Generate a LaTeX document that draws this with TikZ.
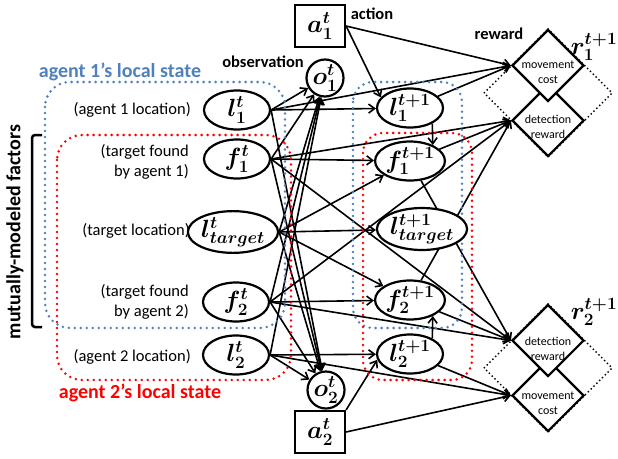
\documentclass[tikz,border=0pt]{standalone}
\usepackage{fontspec}
\setmainfont{Carlito}
\usepackage{bm}
\DeclareMathSizes{23}{23}{17.5}{13}
\usetikzlibrary{arrows.meta,shapes.geometric}
\definecolor{ablue}{RGB}{79,129,189}
\definecolor{ared}{RGB}{255,0,0}
\pgfdeclarelayer{edgelayer}
\pgfdeclarelayer{dotlayer}
\pgfsetlayers{edgelayer,dotlayer,main}
\begin{document}
\begin{tikzpicture}[x=1pt,y=-1pt,
  mfont/.style={font=\fontsize{23}{26}\selectfont},
  st/.style={draw, ellipse, line width=2.2pt, fill=white, minimum width=66pt, minimum height=39pt, inner sep=0pt, mfont},
  wide/.style={minimum width=80pt, minimum height=40pt},
  obsn/.style={draw, circle, line width=2.2pt, fill=white, minimum size=37pt, inner sep=0pt, mfont},
  actn/.style={draw, rectangle, line width=2.2pt, fill=white, minimum width=50pt, minimum height=42pt, inner sep=0pt, mfont},
  rew/.style={draw, diamond, aspect=1, line width=2.2pt, fill=white, minimum width=72pt, minimum height=72pt, inner sep=0pt},
  rtxt/.style={align=center, inner sep=0pt, font=\fontsize{12}{15}\selectfont},
  lab/.style={inner sep=0pt, align=right, anchor=east, font=\fontsize{16.5}{20}\selectfont},
  blab/.style={inner sep=0pt, font=\bfseries\fontsize{16.5}{20}\selectfont},
  ed/.style={line width=1.6pt, -{Straight Barb[length=6pt,width=9pt]}},
  dotb/.style={draw=ablue, line width=2.8pt, line cap=round, dash pattern=on 0pt off 6pt, rounded corners=25pt},
  dotr/.style={draw=ared, line width=2.8pt, line cap=round, dash pattern=on 0pt off 6pt, rounded corners=25pt},
  dotk/.style={draw=black, line width=2pt, line cap=round, dash pattern=on 0pt off 4pt},
]
\useasboundingbox (0,0) rectangle (618,458);

% nodes (t)
\node[st] (l1t) at (237,110) {$\bm{l^{t}_{1}}$};
\node[st] (f1t) at (237,159) {$\bm{f^{t}_{1}}$};
\node[st, wide] (ltt) at (233,232) {$\bm{l^{t}_{target}}$};
\node[st] (f2t) at (236,302) {$\bm{f^{t}_{2}}$};
\node[st] (l2t) at (236,355) {$\bm{l^{t}_{2}}$};
% nodes (t+1)
\node[st] (l1n) at (410,108) {$\bm{l^{t+1}_{1}}$};
\node[st] (f1n) at (410,161) {$\bm{f^{t+1}_{1}}$};
\node[st, wide] (ltn) at (422,229) {$\bm{l^{t+1}_{target}}$};
\node[st] (f2n) at (410,300) {$\bm{f^{t+1}_{2}}$};
\node[st] (l2n) at (410,354) {$\bm{l^{t+1}_{2}}$};
% observations and actions
\node[obsn] (o1) at (325,78) {$\bm{o^{t}_{1}}$};
\node[obsn] (o2) at (326,390) {$\bm{o^{t}_{2}}$};
\node[actn] (a1) at (320,26) {$\bm{a^{t}_{1}}$};
\node[actn] (a2) at (320,432) {$\bm{a^{t}_{2}}$};

% reward groups
\draw[dotk] (548,29) -- (612,93) -- (548,157) -- (484,93) -- cycle;
\draw[dotk] (548,304) -- (612,368) -- (548,432) -- (484,368) -- cycle;
\node[rew] (dr1) at (548,120.5) {};
\node[rew] (mr1) at (548,65.5) {};
\node[rew] (mr2) at (548,395.5) {};
\node[rew] (dr2) at (548,340.5) {};
\node[rtxt] (mr1t) at (548,72) {movement\\cost};
\node[rtxt] (dr1t) at (548,127) {detection\\reward};
\node[rtxt] (dr2t) at (548,349) {detection\\reward};
\node[rtxt] (mr2t) at (548,403) {movement\\cost};
\node[mfont, inner sep=0pt] (r1l) at (594,47) {$\bm{r^{t+1}_{1}}$};
\node[mfont, inner sep=0pt] (r2l) at (594,312) {$\bm{r^{t+1}_{2}}$};

% edges
\begin{pgfonlayer}{edgelayer}
\draw[ed] (l1t.east) -- (o1);
\draw[ed] (l1t.east) -- (l1n);
\draw[ed] (l1t.east) -- (mr1.west);
\draw[ed] (l1t.east) -- (o2);
\draw[ed] (f1t.east) -- (o1);
\draw[ed] (f1t.east) -- (f1n);
\draw[ed] (f1t.east) -- (dr1.west);
\draw[ed] (f1t.east) -- (dr2.west);
\draw[ed] (f1t.east) -- (o2);
\draw[ed] (ltt.east) -- (o1);
\draw[ed] (ltt.east) -- (ltn);
\draw[ed] (ltt.east) -- (f1n);
\draw[ed] (ltt.east) -- (f2n);
\draw[ed] (ltt.east) -- (o2);
\draw[ed] (f2t.east) -- (o1);
\draw[ed] (f2t.east) -- (f2n);
\draw[ed] (f2t.east) -- (dr1.west);
\draw[ed] (f2t.east) -- (dr2.west);
\draw[ed] (f2t.east) -- (o2);
\draw[ed] (l2t.east) -- (o1);
\draw[ed] (l2t.east) -- (l2n);
\draw[ed] (l2t.east) -- (mr2.west);
\draw[ed] (l2t.east) -- (o2);
\draw[ed] (a1.east) -- (l1n.160);
\draw[ed] (a1.east) -- (mr1.west);
\draw[ed] (a2.north east) -- (l2n.-170);
\draw[ed] (a2.east) -- (mr2.west);
\draw[ed] (l1n.-35) -- (f1n.35);
\draw[ed] (l2n.35) -- (f2n.-35);
\draw[ed] (l1n) -- (mr1.west);
\draw[ed] (l2n) -- (mr2.west);
\draw[ed] (f1n) -- (dr1.west);
\draw[ed] (f1n) -- (dr2.west);
\draw[ed] (f2n) -- (dr1.west);
\draw[ed] (f2n) -- (dr2.west);
\end{pgfonlayer}

% local state boxes
\begin{pgfonlayer}{dotlayer}
\draw[dotb] (45,82) rectangle (285,328);
\draw[dotr] (57,135) rectangle (291,380);
\draw[dotb, rounded corners=20pt] (353,82) rectangle (462,328);
\draw[dotr, rounded corners=20pt] (363,133) rectangle (472,380);
\end{pgfonlayer}

% bracket
\draw[line width=2.5pt, rounded corners=3pt] (42,135) -- (32,135) -- (32,327) -- (42,327);

% labels
\node[lab] (t1) at (191,110) {(agent 1 location)};
\node[lab] (t2) at (189,162) {(target found\\by agent 1)};
\node[lab] (t3) at (190,231) {(target location)};
\node[lab] (t4) at (189,302) {(target found\\by agent 2)};
\node[lab] (t5) at (191,357) {(agent 2 location)};
\node[inner sep=0pt, text=ablue, font=\bfseries\fontsize{20}{22}\selectfont] (bl) at (120,72) {agent 1’s local state};
\node[inner sep=0pt, text=ared, font=\bfseries\fontsize{20}{22}\selectfont] (rl) at (140,393) {agent 2’s local state};
\node[inner sep=0pt, rotate=90, font=\bfseries\fontsize{20}{22}\selectfont] (mm) at (15,232) {mutually-modeled factors};
\node[blab] (obs) at (263,62) {observation};
\node[blab] (act) at (372,14) {action};
\node[blab] (rwl) at (499,34) {reward};
\end{tikzpicture}
\end{document}
